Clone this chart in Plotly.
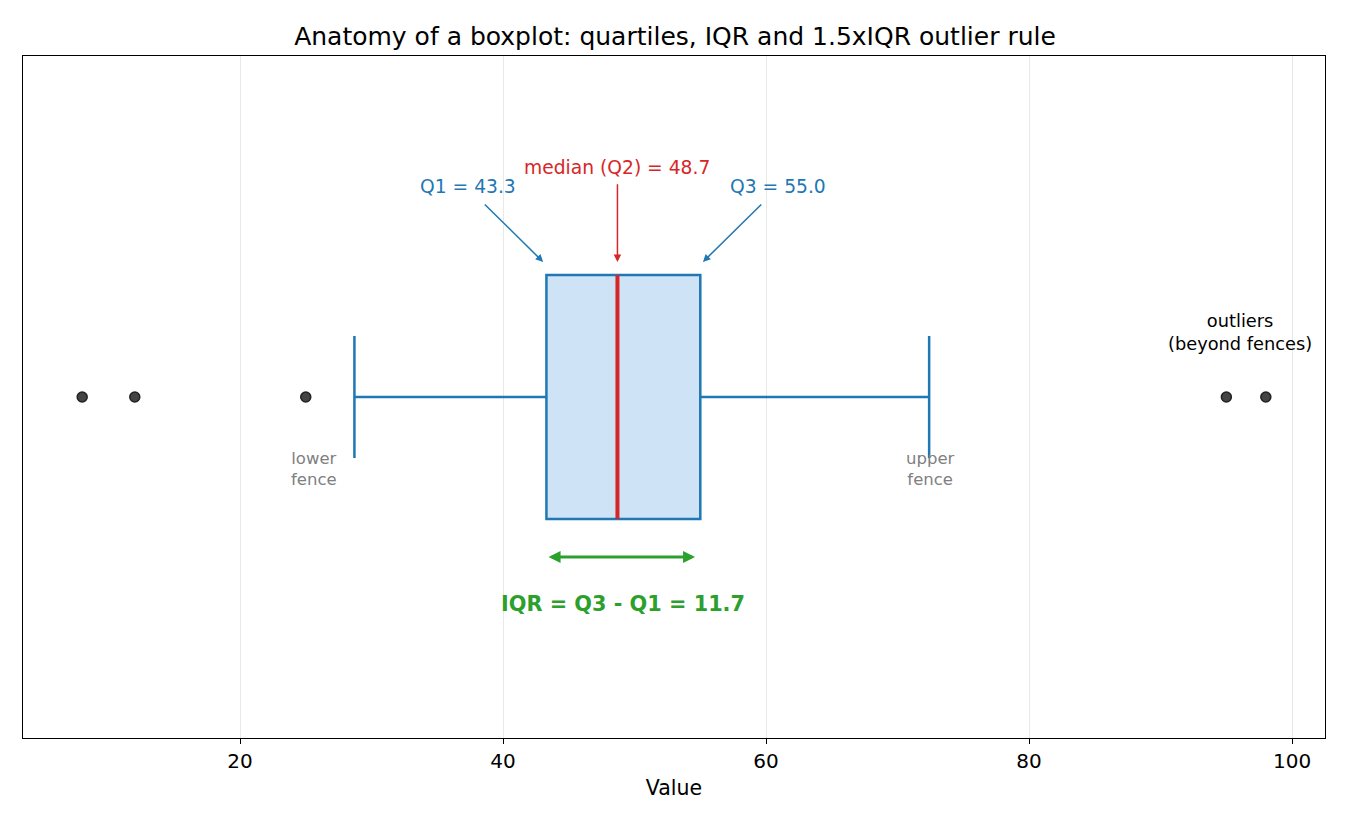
import plotly.graph_objects as go

# ---- data ----
q1 = 43.3
median = 48.7
q3 = 55.0
whisker_low = 28.7
whisker_high = 72.4
outliers = [8.0, 12.0, 25.0, 95.0, 98.0]
x_ticks = [20, 40, 60, 80, 100]

iqr = round(q3 - q1, 1)
lower_fence = q1 - 1.5 * iqr
upper_fence = q3 + 1.5 * iqr

BLUE = "#1f77b4"
RED = "#d62728"
GREEN = "#2ca02c"
FONT = "DejaVu Sans"
BOX_W = 0.716

fig = go.Figure()

fig.add_trace(go.Box(
    orientation="h",
    y=[0],
    q1=[q1], median=[median], q3=[q3],
    lowerfence=[whisker_low], upperfence=[whisker_high],
    width=BOX_W,
    whiskerwidth=0.5,
    fillcolor="#cfe3f6",
    line=dict(color=BLUE, width=2.5),
    boxpoints=False,
    showlegend=False,
    hoverinfo="skip",
))

fig.add_trace(go.Scatter(
    x=outliers, y=[0] * len(outliers), mode="markers",
    marker=dict(size=10, color="#444444", line=dict(color="#222222", width=1.5)),
    showlegend=False, hoverinfo="skip",
))

# median line in red
fig.add_shape(type="line", x0=median, x1=median, y0=-BOX_W / 2, y1=BOX_W / 2,
              xref="x", yref="y", line=dict(color=RED, width=4), layer="above")

ann = []
def arrow(x, y, ax, ay, color, width=1.5, side="end", head=2, size=1.0):
    ann.append(dict(x=x, y=y, ax=ax, ay=ay, xref="x", yref="y", axref="x", ayref="y",
                    text="", showarrow=True, arrowhead=head, startarrowhead=head,
                    arrowside=side, arrowsize=size, arrowwidth=width, arrowcolor=color))

arrow(q1 - 0.25, 0.396, q1 - 4.8, 0.569, BLUE)
arrow(median, 0.396, median, 0.628, RED)
arrow(q3 + 0.2, 0.396, q3 + 4.75, 0.569, BLUE)
arrow(q3 - 0.4, -0.469, q1 + 0.05, -0.469, GREEN, width=3, side="end+start", head=2, size=0.8)

def label(x, y, text, color, size=14, bold=False):
    if bold:
        text = "<b>" + text + "</b>"
    ann.append(dict(x=x, y=y, xref="x", yref="y", text=text, showarrow=False,
                    font=dict(family=FONT, size=size, color=color),
                    xanchor="center", yanchor="middle"))

label(q1 - 5.95, 0.616, f"Q1 = {q1:.1f}", BLUE, 18.7)
label(median, 0.674, f"median (Q2) = {median:.1f}", RED, 18.7)
label(q3 + 5.9, 0.616, f"Q3 = {q3:.1f}", BLUE, 18.7)
label((q1 + q3) / 2, -0.607, f"IQR = Q3 - Q1 = {iqr:.1f}", GREEN, 20.8, bold=True)
label(lower_fence - 0.1, -0.211, "lower<br>fence", "#808080", 16.5)
label(upper_fence - 0.05, -0.211, "upper<br>fence", "#808080", 16.5)
label(96.0, 0.19, "outliers<br>(beyond fences)", "black", 17.8)

fig.update_layout(
    width=1350, height=825,
    margin=dict(l=23, r=25, t=56, b=87),
    paper_bgcolor="white", plot_bgcolor="white",
    font=dict(family=FONT, color="black"),
    title=dict(text="Anatomy of a boxplot: quartiles, IQR and 1.5xIQR outlier rule",
               x=0.5, xanchor="center", y=0.956, yanchor="middle",
               font=dict(family=FONT, size=25, color="black")),
    annotations=ann,
    xaxis=dict(range=[3.5, 102.5], tickvals=x_ticks, showgrid=True, gridcolor="#e8e8e8",
               gridwidth=1, zeroline=False, showline=True, linecolor="black", linewidth=1,
               mirror=True, ticks="outside", ticklen=5, tickcolor="black",
               tickfont=dict(family=FONT, size=20),
               title=dict(text="Value", font=dict(family=FONT, size=20.5), standoff=8)),
    yaxis=dict(range=[-1, 1], showticklabels=False, showgrid=False, zeroline=False,
               showline=True, linecolor="black", linewidth=1, mirror=True, ticks=""),
)

fig.write_html("out.html")
